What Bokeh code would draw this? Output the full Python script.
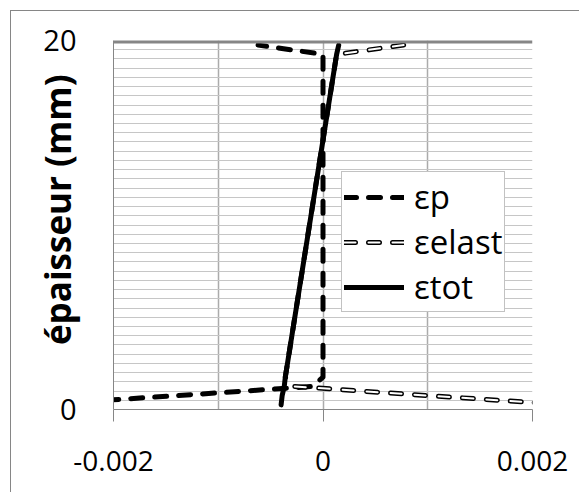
from bokeh.plotting import figure
from bokeh.models import Range1d, FixedTicker, Legend, LegendItem, Span, Title
from bokeh.embed import file_html
from bokeh.resources import INLINE

# ---- data ----
thickness = [0.25, 0.75, 1.25, 1.75, 19.25, 19.75]          # mm
eps_p     = [-0.00275, -0.00140, -0.00010, 0.0, 0.0, -0.00062]
eps_elast = [0.00235, 0.00101, -0.00027, -0.00036, 0.00013, 0.00077]
eps_tot   = [-0.00040, -0.00039, -0.00037, -0.00036, 0.00013, 0.00015]

series_labels = ["εp", "εelast", "εtot"]
x_ticks = [-0.002, 0, 0.002]
x_tick_labels = ["-0.002", "0", "0.002"]
x_grid = [-0.002, -0.001, 0, 0.001, 0.002]
y_ticks = [0, 20]
y_tick_labels = ["0", "20"]
y_minor = [0.5 * i for i in range(41)]
y_title = "épaisseur (mm)"

FONT = "Open Sans"
AXIS_GRAY = "#868686"

p = figure(width=569, height=482,
           x_range=Range1d(-0.002, 0.002), y_range=Range1d(0, 20),
           output_backend="svg", toolbar_location=None, title=None,
           min_border_left=102, min_border_right=48,
           min_border_top=29, min_border_bottom=84)
p.outline_line_color = None
p.background_fill_color = "white"
p.border_fill_color = "white"
p.margin = (10, 0, 0, 10)
p.styles = {"border-left": "1px solid #868686", "border-top": "1px solid #868686"}

# grids
p.xgrid.ticker = FixedTicker(ticks=x_grid)
p.xgrid.grid_line_color = "#ababab"
p.xgrid.grid_line_width = 1.5
p.ygrid.ticker = FixedTicker(ticks=[], minor_ticks=y_minor)
p.ygrid.grid_line_color = None
p.ygrid.minor_grid_line_color = "#c6c6c6"
p.ygrid.minor_grid_line_width = 1
p.add_layout(Span(location=20, dimension="width", line_color=AXIS_GRAY, line_width=6))

# x axis
xa = p.xaxis[0]
xa.ticker = FixedTicker(ticks=x_ticks)
xa.major_label_overrides = dict(zip(x_ticks, x_tick_labels))
xa.axis_line_color = AXIS_GRAY
xa.major_tick_line_color = AXIS_GRAY
xa.major_tick_out = 12
xa.major_tick_in = 0
xa.minor_tick_line_color = None
xa.major_label_text_font = FONT
xa.major_label_text_font_size = "28px"
xa.major_label_text_color = "black"
xa.major_label_standoff = 29

# y axis
ya = p.yaxis[0]
ya.ticker = FixedTicker(ticks=y_ticks)
ya.major_label_overrides = dict(zip(y_ticks, y_tick_labels))
ya.axis_line_color = AXIS_GRAY
ya.major_tick_line_color = None
ya.major_tick_out = 0
ya.major_tick_in = 0
ya.minor_tick_line_color = None
ya.major_label_text_font = FONT
ya.major_label_text_font_size = "29px"
ya.major_label_text_color = "black"
ya.major_label_standoff = 37

# y axis title, placed as a side title so it can be offset along the axis
ytitle = Title(text=y_title, align="right", offset=34, vertical_align="bottom",
               standoff=-80, text_font=FONT, text_font_style="bold",
               text_font_size="35px", text_color="black")
p.add_layout(ytitle, "left")

# series
r_p = p.line(eps_p, thickness, line_color="black", line_width=5,
             line_dash="12 12", line_cap="round", line_join="round")
r_el_b = p.line(eps_elast, thickness, line_color="black", line_width=5,
                line_dash="11 13", line_cap="round", line_join="round")
r_el_w = p.line(eps_elast, thickness, line_color="white", line_width=2,
                line_dash="11 13", line_cap="round", line_join="round")
r_tot = p.line(eps_tot, thickness, line_color="black", line_width=5,
               line_cap="round", line_join="round")

legend = Legend(items=[
    LegendItem(label=series_labels[0], renderers=[r_p]),
    LegendItem(label=series_labels[1], renderers=[r_el_b, r_el_w]),
    LegendItem(label=series_labels[2], renderers=[r_tot]),
], location=(228, 97))
legend.border_line_color = AXIS_GRAY
legend.border_line_width = 1
legend.background_fill_color = "white"
legend.background_fill_alpha = 1
legend.label_text_font = FONT
legend.label_text_font_size = "33px"
legend.label_text_color = "black"
legend.glyph_width = 60
legend.glyph_height = 30
legend.label_standoff = 10
legend.padding = 2
legend.spacing = -10
legend.margin = 0
p.add_layout(legend, "center")

open("out.html", "w").write(file_html(p, INLINE))
